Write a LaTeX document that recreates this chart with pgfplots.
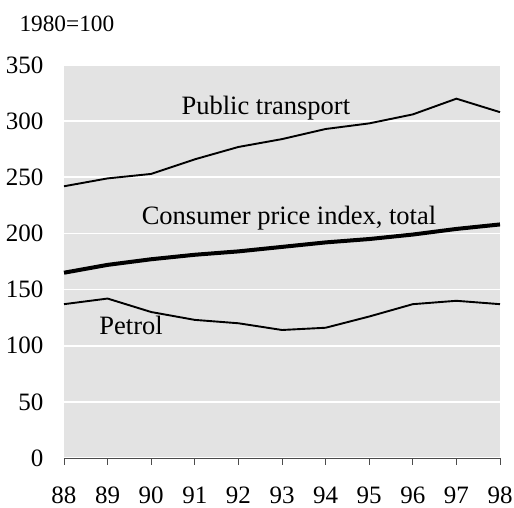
\documentclass[border=0pt]{standalone}
\usepackage{fontspec}
\setmainfont{Liberation Serif}
\usepackage{pgfplots}
\pgfplotsset{compat=1.18}
\definecolor{bg}{RGB}{227,227,227}
\begin{document}
\fontsize{22}{26}\selectfont
\begin{tikzpicture}
\useasboundingbox (-64pt,-50pt) rectangle (450pt,458pt);
\begin{axis}[
  at={(0pt,0pt)}, anchor=south west,
  scale only axis, width=436pt, height=393pt,
  xmin=88, xmax=98, ymin=0, ymax=350,
  xtick={88,...,98}, ytick={0,50,...,350},
  axis lines=left,
  x axis line style={-, draw=black!70, line width=0.8pt},
  y axis line style={draw=none},
  ytick style={draw=none},
  xtick style={draw=black!70, line width=0.8pt},
  tick align=outside, major tick length=7pt,
  axis background/.style={fill=bg},
  ymajorgrids, grid style={white, line width=1.6pt},
  /pgf/number format/assume math mode=true,
  tick label style={font=\fontsize{25}{30}\selectfont},
  yticklabel style={xshift=-6pt},
  xticklabel style={yshift=-14pt},
  clip=false,
]
\addplot[black, line width=1.9pt] coordinates {(88,242)(89,249)(90,253)(91,266)(92,277)(93,284)(94,293)(95,298)(96,306)(97,320)(98,308)};
\addplot[black, line width=4pt] coordinates {(88,165)(89,172)(90,177)(91,181)(92,184)(93,188)(94,192)(95,195)(96,199)(97,204)(98,208)};
\addplot[black, line width=1.9pt] coordinates {(88,137)(89,142)(90,130)(91,123)(92,120)(93,114)(94,116)(95,126)(96,137)(97,140)(98,137)};
\node[font=\fontsize{26.5}{30}\selectfont] at (axis cs:92.63,312) {Public transport};
\node[font=\fontsize{26.5}{30}\selectfont] at (axis cs:93.16,214) {Consumer price index, total};
\node[font=\fontsize{26.5}{30}\selectfont] at (axis cs:89.54,118.5) {Petrol};
\end{axis}
\node[anchor=west, font=\fontsize{23.3}{28}\selectfont] at (-52pt,434pt) {1980=100};
\end{tikzpicture}
\end{document}
